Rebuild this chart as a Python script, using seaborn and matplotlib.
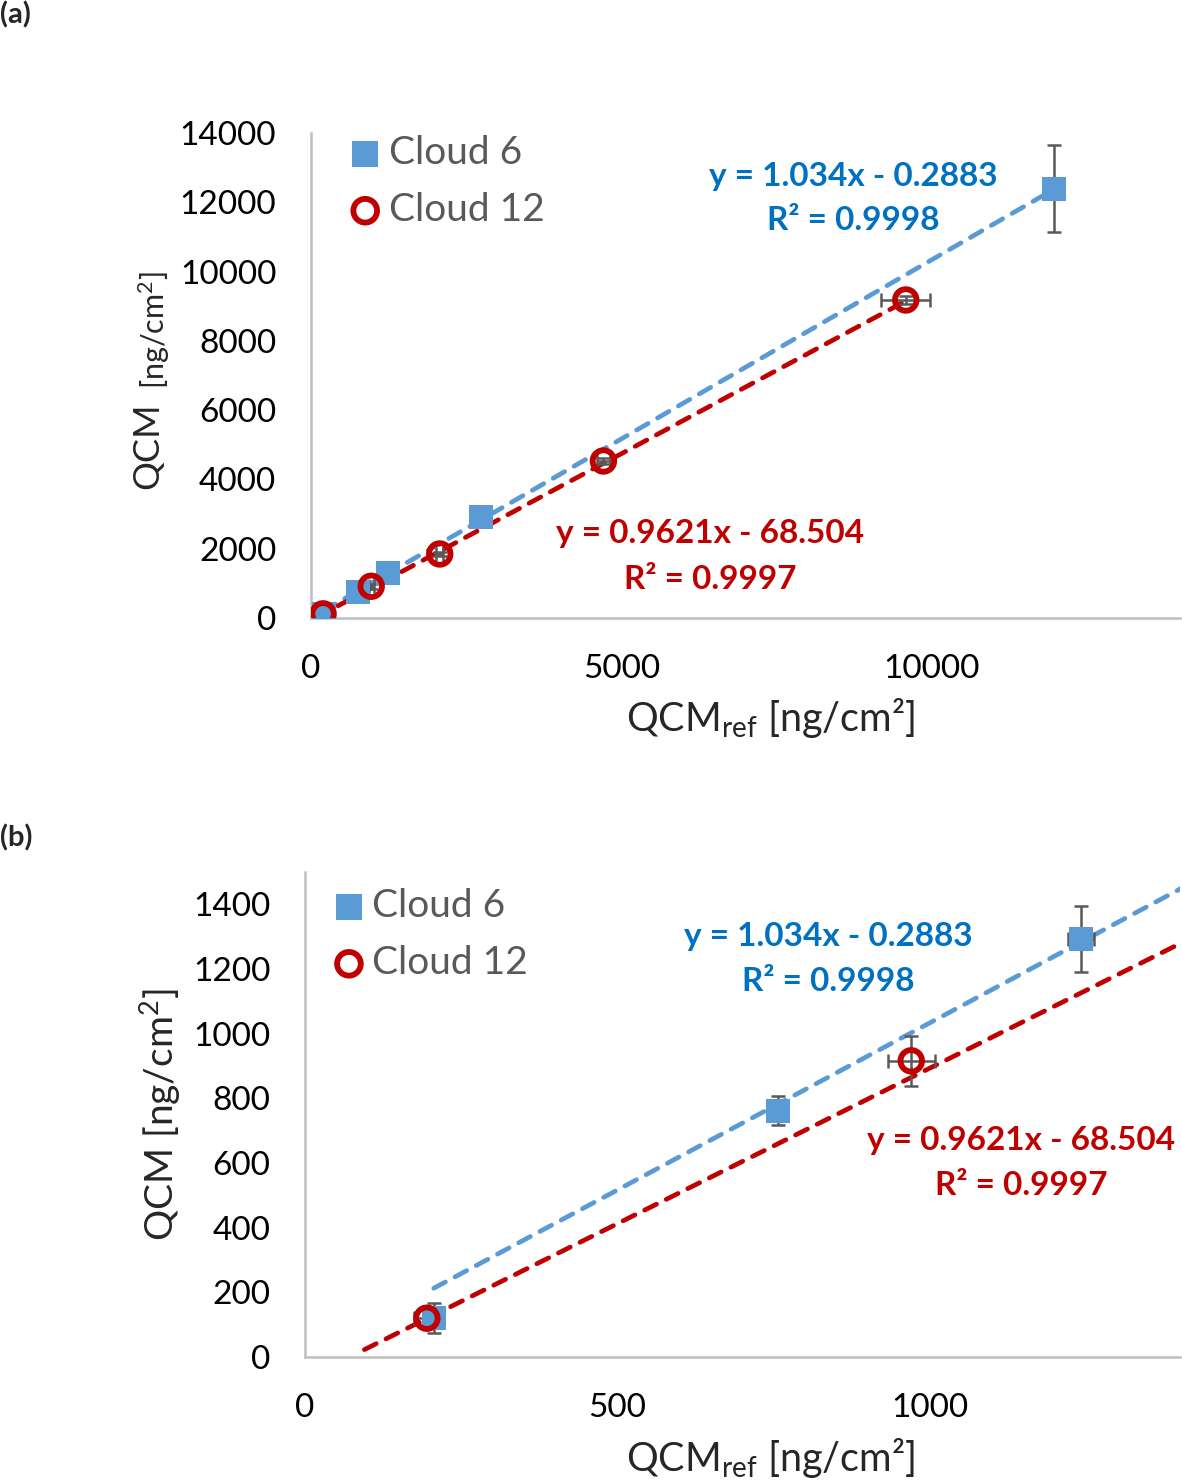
import numpy as np
import pandas as pd
import seaborn as sns
import matplotlib.pyplot as plt
from matplotlib.ticker import MultipleLocator

# ===== 数据 =====
cloud6_x = [206, 757, 1241, 2733, 11977]
cloud6_y = [121, 762, 1292, 2916, 12385]
cloud6_xerr = [15, 15, 21, 40, 120]
cloud6_yerr = [46, 46, 102, 100, 1256]

cloud12_x = [195, 970, 2074, 4711, 9582]
cloud12_y = [120, 916, 1848, 4532, 9180]
cloud12_xerr = [20, 38, 60, 110, 394]
cloud12_yerr = [25, 77, 60, 90, 120]

fit6 = (1.034, -0.2883)
fit12 = (0.9621, -68.504)
backward12 = 100  # trendline forecast backward

eq6 = ["y = 1.034x - 0.2883", "R² = 0.9998"]
eq12 = ["y = 0.9621x - 68.504", "R² = 0.9997"]

BLUE_M = "#5B9BD5"
BLUE_T = "#0070C0"
RED = "#C00000"
GREY = "#595959"
AXC = "#BFBFBF"

sns.set_theme(style="white")
plt.rcParams['font.family'] = ['Lato', 'DejaVu Sans']
plt.rcParams['mathtext.fontset'] = 'custom'
plt.rcParams['mathtext.rm'] = 'Lato'
plt.rcParams['mathtext.it'] = 'Lato:italic'

df6 = pd.DataFrame({"x": cloud6_x, "y": cloud6_y})
df12 = pd.DataFrame({"x": cloud12_x, "y": cloud12_y})

fig = plt.figure(figsize=(11.82, 14.8), dpi=100)
ax_a = fig.add_axes([311/1182, 1-618/1480, 869/1182, 485/1480])
ax_b = fig.add_axes([305/1182, 1-1357/1480, 875/1182, 485/1480])


def draw(ax, xmax, ymax, ytop, xmaj, xmin_step, ymaj, eqpos, legpos):
    # trendlines
    x6 = np.array([min(cloud6_x), max(cloud6_x)])
    x12 = np.array([min(cloud12_x) - backward12, max(cloud12_x)])
    for xs, (m, c), col in [(x6, fit6, BLUE_M), (x12, fit12, RED)]:
        ln = pd.DataFrame({"x": xs, "y": m * xs + c})
        sns.lineplot(data=ln, x="x", y="y", ax=ax, color=col, lw=3.4,
                     dashes=False, zorder=2)
        ax.lines[-1].set_dashes((2.8, 2.3))
        ax.lines[-1].set_dash_capstyle('round')

    # error bars
    ax.errorbar(cloud6_x, cloud6_y, xerr=cloud6_xerr, yerr=cloud6_yerr, fmt='none',
                ecolor=GREY, elinewidth=1.8, capsize=5, capthick=1.8, zorder=3)
    ax.errorbar(cloud12_x, cloud12_y, xerr=cloud12_xerr, yerr=cloud12_yerr, fmt='none',
                ecolor=GREY, elinewidth=1.8, capsize=5, capthick=1.8, zorder=3)

    sns.scatterplot(data=df6, x="x", y="y", ax=ax, marker="s", s=17**2,
                    color=BLUE_M, edgecolor=BLUE_M, linewidth=0, label="Cloud 6", zorder=4)
    sns.scatterplot(data=df12, x="x", y="y", ax=ax, marker="o", s=15.5**2,
                    facecolor="none", edgecolor=RED, linewidth=4.2, label="Cloud 12", zorder=5)

    ax.set_xlim(0, xmax)
    ax.set_ylim(0, ymax)
    ax.xaxis.set_major_locator(MultipleLocator(xmaj))
    ax.xaxis.set_minor_locator(MultipleLocator(xmin_step))
    ax.set_yticks(np.arange(0, ytop + 1, ymaj))
    for s in ["top", "right"]:
        ax.spines[s].set_visible(False)
    for s in ["left", "bottom"]:
        ax.spines[s].set_color(AXC)
        ax.spines[s].set_linewidth(1.8)
    ax.tick_params(axis="both", which="both", direction="in", color=AXC, width=1.8,
                   labelsize=24, labelcolor="black")
    ax.tick_params(axis="y", which="major", length=8, pad=25)
    ax.tick_params(axis="x", which="major", length=7, pad=26)
    ax.tick_params(axis="x", which="minor", length=7)
    ax.set_xlabel("")
    ax.set_ylabel("")

    (bx, by1, by2), (rx, ry1, ry2) = eqpos
    for (x, y, s, col) in [(bx, by1, eq6[0], BLUE_T), (bx, by2, eq6[1], BLUE_T),
                           (rx, ry1, eq12[0], RED), (rx, ry2, eq12[1], RED)]:
        ax.text(x, y, s, transform=ax.transAxes, ha="center", va="center",
                color=col, fontsize=24, fontweight="bold")

    leg = ax.legend(loc="upper left", bbox_to_anchor=legpos, frameon=False,
                    fontsize=28, handletextpad=0.1, labelspacing=0.54,
                    borderaxespad=0, borderpad=0, handlelength=1.0, markerscale=1.1)
    for t in leg.get_texts():
        t.set_color(GREY)


draw(ax_a, 14000, 14000, 14000, 5000, 1000, 2000,
     ((0.6237, 0.911, 0.8186), (0.459, 0.1732, 0.0804)), (0.040, 0.996))
draw(ax_b, 1400, 1500, 1400, 500, 100, 200,
     ((0.5977, 0.868, 0.775), (0.8183, 0.4454, 0.3526)), (0.028, 0.967))

# axis labels
for yy in (718, 1458):
    fig.text(771/1182, 1-yy/1480, "QCM$_\\mathregular{ref}$ [ng/cm²]", ha="center",
             va="center", fontsize=28.5)
fig.text(148/1182, 1-446/1480, "QCM", rotation=90, ha="center", va="center", fontsize=26)
fig.text(154/1182, 1-330/1480, "[ng/cm$^\\mathregular{2}$]", rotation=90, ha="center",
         va="center", fontsize=22)
fig.text(160/1182, 1-1115/1480, "QCM [ng/cm$^\\mathregular{2}$]", rotation=90, ha="center",
         va="center", fontsize=28)

fig.text(0.0, 1-15/1480, "(a)", ha="left", va="center", fontsize=21, fontweight="bold")
fig.text(0.0, 1-838/1480, "(b)", ha="left", va="center", fontsize=21, fontweight="bold")

fig.savefig("out.png", dpi=100)
